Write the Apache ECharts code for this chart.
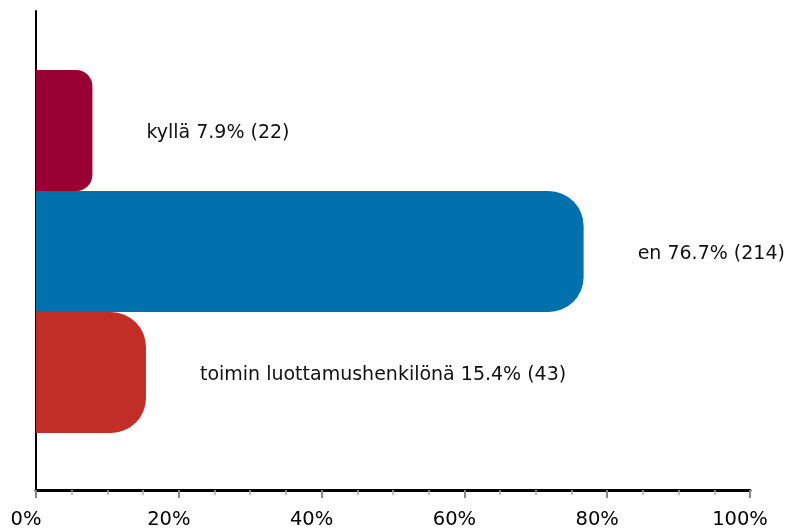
<!DOCTYPE html>
<html>
<head>
<meta charset="utf-8">
<script src="https://cdn.jsdelivr.net/npm/echarts@6/dist/echarts.min.js"></script>
<style>
  html, body { margin: 0; padding: 0; background: #fff; }
  #chart { width: 795px; height: 532px; }
</style>
</head>
<body>
<div id="chart"></div>
<script>
const categories = ['kyllä', 'en', 'toimin luottamushenkilönä']
const percents = [7.9, 76.7, 15.4]
const counts = [22, 214, 43]
const barColors = ['#990033', '#0071ad', '#c12e27']
const radii = [16, 35, 35]
const tickLabels = ['0%', '20%', '40%', '60%', '80%', '100%']

const chart = echarts.init(document.getElementById('chart'))
const font = 'DejaVu Sans'

const option = {
  animation: false,
  grid: [
    // outer frame: axis lines + ticks
    { left: 36, right: 45, top: 11, bottom: 42 },
    // inner grid holding the bars
    { left: 36, right: 45, top: 70, bottom: 99 }
  ],
  xAxis: [
    {
      gridIndex: 0,
      type: 'value',
      min: 0,
      max: 100,
      interval: 20,
      splitLine: { show: false },
      axisLine: { show: true, lineStyle: { color: '#000', width: 3 } },
      axisTick: { show: true, length: 8, lineStyle: { color: '#888', width: 2 } },
      minorTick: { show: true, splitNumber: 4, length: 5, lineStyle: { color: '#aaa', width: 1.5 } },
      axisLabel: {
        color: '#000',
        fontFamily: font,
        fontSize: 19.5,
        margin: 20,
        padding: [0, 20, 0, 0],
        formatter(v) {
          return tickLabels[Math.round(v / 20)]
        }
      }
    },
    {
      gridIndex: 1,
      type: 'value',
      min: 0,
      max: 100,
      show: false
    }
  ],
  yAxis: [
    {
      gridIndex: 0,
      type: 'value',
      min: 0,
      max: 1,
      splitLine: { show: false },
      axisLine: { show: true, lineStyle: { color: '#000', width: 2 } },
      axisTick: { show: false },
      axisLabel: { show: false }
    },
    {
      gridIndex: 1,
      type: 'category',
      inverse: true,
      data: categories,
      show: false
    }
  ],
  series: [
    {
      type: 'bar',
      xAxisIndex: 1,
      yAxisIndex: 1,
      barCategoryGap: 0,
      z: 1,
      data: percents.map((v, i) => ({
        value: v,
        itemStyle: { color: barColors[i], borderRadius: [0, radii[i], radii[i], 0] }
      })),
      label: {
        show: true,
        position: 'right',
        distance: 54,
        offset: [0, 3],
        color: '#111',
        fontFamily: font,
        fontSize: 19,
        formatter(p) {
          return categories[p.dataIndex] + ' ' + percents[p.dataIndex].toFixed(1) + '% (' + counts[p.dataIndex] + ')'
        }
      }
    }
  ]
}

chart.setOption(option)
</script>
</body>
</html>
